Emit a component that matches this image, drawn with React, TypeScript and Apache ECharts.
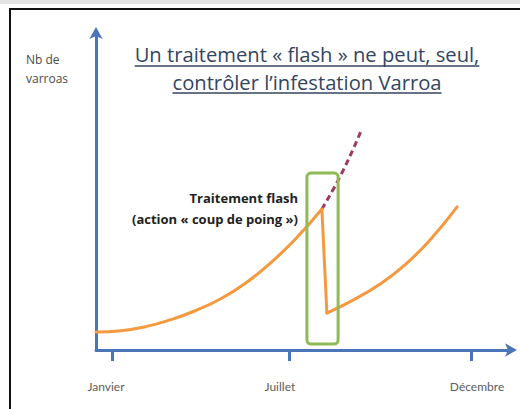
import React, { useEffect, useRef } from "react";
import * as echarts from "echarts";

// ---- data (x: position along the year axis, y: varroa count, arbitrary units) ----
const monthLabels = ["Janvier", "Juillet", "Décembre"];
const monthTickValues = [3.8, 46.4, 90.1];
const monthLabelValues = [2.4, 44.2, 91.6];

const growthX = [0, 6, 12, 18, 24, 30, 36, 42, 48, 54.3];
const growthY = [5.7, 6.1, 7.4, 9.6, 12.5, 16.2, 21.2, 27.6, 35.2, 44.6];

const dropX = [54.3, 55.5];
const dropY = [44.6, 11.7];

const regrowthX = [55.5, 61.8, 68.1, 74.4, 80.6, 86.8];
const regrowthY = [11.7, 15.8, 20.7, 27.1, 35.3, 45.3];

const untreatedX = [54.3, 59.1, 63.9];
const untreatedY = [44.6, 56.0, 69.9];

// treatment window box: [xStart, xEnd], [yBottom, yTop]
const treatmentBoxX = [50.7, 58.2];
const treatmentBoxY = [1.9, 56.0];

const titleLines = ["Un traitement « flash » ne peut, seul,", "contrôler l’infestation Varroa"];
const yAxisTitle = ["Nb de", "varroas"];
const annotationLines = ["Traitement flash", "(action « coup de poing »)"];

const zip = (xs: number[], ys: number[]) => xs.map((x, i) => [x, ys[i]]);

const FONT = "'Open Sans', Lato, 'DejaVu Sans', sans-serif";
const LABEL_FONT = "Lato, 'Open Sans', sans-serif";
const BLUE = "#4a76b9";
const ORANGE = "#f5993f";
const GREEN = "#8fba55";
const TITLE_COLOR = "#34455f";

function measure(text: string, font: string) {
  const c = document.createElement("canvas");
  const ctx = c.getContext("2d")!;
  ctx.font = font;
  return ctx.measureText(text).width;
}

export default function App() {
  const ref = useRef<HTMLDivElement>(null);
  useEffect(() => {
    if (!ref.current) return;
    const chart = echarts.init(ref.current, undefined, { renderer: "svg" });
    const titleSize = 20.2;
    const titleFont = `${titleSize}px 'Open Sans'`;
    const w1 = measure(titleLines[0], titleFont);
    const w2 = measure(titleLines[1], titleFont);
    const cx = 307;
    const titleY = [54, 81.5];

    const lineSeries = (xs: number[], ys: number[], smooth: boolean | number, extra: any = {}) => ({
      type: "line",
      data: zip(xs, ys),
      smooth,
      showSymbol: false,
      lineStyle: { color: ORANGE, width: 3, cap: "round", join: "miter" },
      z: 4,
      ...extra,
    });

    chart.setOption({
      animation: false,
      backgroundColor: "#ffffff",
      grid: { left: 96, right: 8, top: 34, bottom: 59 },
      xAxis: [
        {
          type: "value",
          min: 0,
          max: 100,
          axisLine: {
            show: true,
            onZero: false,
            symbol: ["none", "arrow"],
            symbolSize: [10, 12],
            symbolOffset: [0, 5],
            lineStyle: { color: BLUE, width: 3 },
          },
          axisTick: { show: false },
          axisLabel: { show: false },
          splitLine: { show: false },
        },
        {
          type: "value",
          min: 0,
          max: 100,
          position: "bottom",
          offset: 7,
          axisLine: { show: false },
          axisTick: {
            show: true,
            length: 11,
            customValues: monthTickValues,
            lineStyle: { color: BLUE, width: 3 },
          },
          axisLabel: {
            show: true,
            customValues: monthLabelValues,
            margin: 23,
            color: "#5e5e5e",
            fontSize: 12,
            fontFamily: LABEL_FONT,
            formatter: (v: number) => {
              const i = monthLabelValues.findIndex((m) => Math.abs(m - v) < 1e-6);
              return i >= 0 ? monthLabels[i] : "";
            },
          },
          splitLine: { show: false },
        },
      ],
      yAxis: {
        type: "value",
        min: 0,
        max: 100,
        axisLine: {
          show: true,
          onZero: false,
          symbol: ["none", "arrow"],
          symbolSize: [10, 12],
          symbolOffset: [0, 7],
          lineStyle: { color: BLUE, width: 3 },
        },
        axisTick: { show: false },
        axisLabel: { show: false },
        splitLine: { show: false },
      },
      series: [
        lineSeries(untreatedX, untreatedY, true, {
          lineStyle: { color: "#a03a62", width: 3, type: [6, 4] },
          z: 3,
        }),
        lineSeries(growthX, growthY, true),
        lineSeries(dropX, dropY, false),
        lineSeries(regrowthX, regrowthY, true),
      ],
    });

    const p0 = chart.convertToPixel({ gridIndex: 0 }, [treatmentBoxX[0], treatmentBoxY[1]]) as number[];
    const p1 = chart.convertToPixel({ gridIndex: 0 }, [treatmentBoxX[1], treatmentBoxY[0]]) as number[];

    const titleStyle = {
      fontSize: titleSize,
      fontFamily: "'Open Sans'",
      fill: TITLE_COLOR,
      align: "center",
      verticalAlign: "middle",
      lineHeight: 22,
    };

    chart.setOption({
      graphic: [
        { type: "rect", shape: { x: 0, y: 0, width: 520, height: 4 }, style: { fill: "#e4e4e4" }, z: 1 },
        { type: "line", shape: { x1: 9, y1: 9, x2: 520, y2: 9 }, style: { stroke: "#111", lineWidth: 2 }, z: 1 },
        { type: "line", shape: { x1: 10, y1: 8, x2: 10, y2: 409 }, style: { stroke: "#111", lineWidth: 2 }, z: 1 },
        {
          type: "rect",
          shape: { x: p0[0], y: p0[1], width: p1[0] - p0[0], height: p1[1] - p0[1], r: 4 },
          style: { fill: "none", stroke: GREEN, lineWidth: 3 },
          z: 10,
        },
        { type: "text", x: cx, y: titleY[0], style: { ...titleStyle, text: titleLines[0] } },
        { type: "text", x: cx, y: titleY[1], style: { ...titleStyle, text: titleLines[1] } },
        { type: "line", shape: { x1: cx - w1 / 2, y1: titleY[0] + 12, x2: cx + w1 / 2, y2: titleY[0] + 12 }, style: { stroke: TITLE_COLOR, lineWidth: 1.5 } },
        { type: "line", shape: { x1: cx - w2 / 2, y1: titleY[1] + 11.5, x2: cx + w2 / 2, y2: titleY[1] + 11.5 }, style: { stroke: TITLE_COLOR, lineWidth: 1.5 } },
        {
          type: "text",
          x: 26,
          y: 68.5,
          style: {
            text: yAxisTitle.join("\n"),
            fontSize: 12,
            fontFamily: FONT,
            fill: "#4a4a4a",
            align: "left",
            verticalAlign: "middle",
            lineHeight: 19,
          },
        },
        {
          type: "text",
          x: 298,
          y: 208.5,
          style: {
            text: annotationLines.join("\n"),
            fontSize: 13,
            fontWeight: "bold",
            fontFamily: FONT,
            fill: "#222",
            align: "right",
            verticalAlign: "middle",
            lineHeight: 21,
          },
        },
      ],
    });

    return () => chart.dispose();
  }, []);
  return <div ref={ref} style={{ position: "absolute", left: 0, top: 0, width: 520, height: 409 }} />;
}
